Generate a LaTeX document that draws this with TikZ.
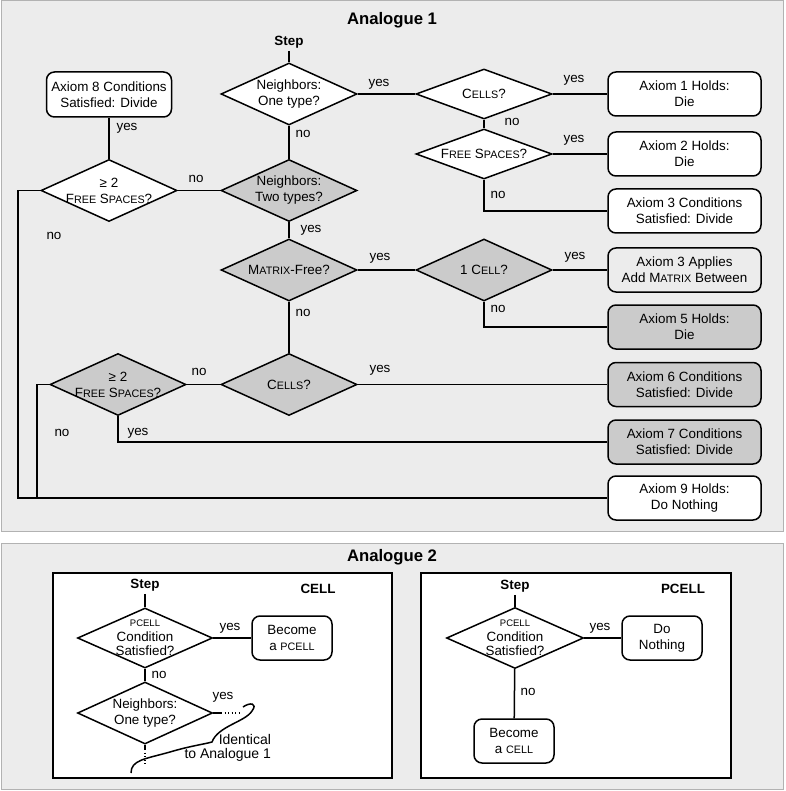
\documentclass[tikz,border=0pt]{standalone}
\usepackage{fontspec}
\setmainfont{Liberation Sans}
\usetikzlibrary{shapes.geometric,calc}
\definecolor{panelbg}{HTML}{ECECEC}
\definecolor{panelrule}{HTML}{B2B2B2}
\definecolor{shade}{HTML}{CBCBCB}
\newcommand{\sm}[1]{{\fontsize{10.8}{16}\selectfont #1}}
\newcommand{\smp}[1]{{\fontsize{9.5}{14}\selectfont #1}}

\begin{document}
\begin{tikzpicture}[x=1pt,y=-1pt,line width=1.5pt,
    every node/.style={font=\fontsize{13.4}{16}\selectfont, align=center},
    dia/.style={diamond, draw, fill=white, aspect=2, inner xsep=-20pt, inner ysep=-8pt,
      minimum width=136, minimum height=62},
    grey/.style={fill=shade},
    axbox/.style={draw, rounded corners=8, fill=white, inner sep=0pt, minimum width=153, minimum height=44},
    smbox/.style={draw, rounded corners=8, fill=white, inner sep=0pt, minimum width=80, minimum height=44},
    hd/.style={font=\bfseries\fontsize{13.4}{16}\selectfont, inner sep=2pt},
    title/.style={font=\bfseries\fontsize{16.7}{20}\selectfont},
    dots/.style={line width=1.2pt, dash pattern=on 1.2pt off 2.3pt}]
  \useasboundingbox (0,0) rectangle (785,791);
  \draw[panelrule, fill=panelbg, line width=1pt] (1,1) rectangle (783,531);
  \draw[panelrule, fill=panelbg, line width=1pt] (1,543) rectangle (783,789);

  % Analogue 1
  \node[title] (titleA) at (392,20) {Analogue 1};
  \node[hd] (stepA) at (289,42) {Step};
  \node[dia] (one) at (289,94) {Neighbors:\\One type?};
  \node[dia, grey] (two) at (289,190.5) {Neighbors:\\Two types?};
  \node[dia, grey] (mfree) at (289,270) {M\sm{ATRIX}-Free?};
  \node[dia, grey] (cellsB) at (289,384.5) {C\sm{ELLS}?};
  \node[dia, minimum height=50] (cellsA) at (484,94) {C\sm{ELLS}?};
  \node[dia, minimum height=50] (free) at (484,154) {F\sm{REE} S\sm{PACES}?};
  \node[dia, grey] (onecell) at (484,270) {1 C\sm{ELL}?};
  \node[dia] (ge2a) at (109,190.5) {≥ 2\\F\sm{REE} S\sm{PACES}?};
  \node[dia, grey] (ge2b) at (118,384.5) {≥ 2\\F\sm{REE} S\sm{PACES}?};

  \node[axbox, minimum width=125, minimum height=45] (ax8) at (109,94.5) {Axiom 8 Conditions\\Satisfied: Divide};
  \node[axbox] (ax1) at (684.5,94) {Axiom 1 Holds:\\Die};
  \node[axbox] (ax2) at (684.5,154) {Axiom 2 Holds:\\Die};
  \node[axbox] (ax3) at (684.5,211) {Axiom 3 Conditions\\Satisfied: Divide};
  \node[axbox, fill=panelbg] (ax3b) at (684.5,270) {Axiom 3 Applies\\Add M\sm{ATRIX} Between};
  \node[axbox, grey] (ax5) at (684.5,327) {Axiom 5 Holds:\\Die};
  \node[axbox, grey] (ax6) at (684.5,384.5) {Axiom 6 Conditions\\Satisfied: Divide};
  \node[axbox, grey] (ax7) at (684.5,442) {Axiom 7 Conditions\\Satisfied: Divide};
  \node[axbox] (ax9) at (684.5,498) {Axiom 9 Holds:\\Do Nothing};
  \coordinate (railA) at (18,498);
  \coordinate (railB) at (37,498);

  \draw (stepA) -- (one);
  \draw (one) -- (cellsA);
  \draw (cellsA) -- (ax1);
  \draw (cellsA) -- (free);
  \draw (free) -- (ax2);
  \draw (free.south) |- (ax3);
  \draw (one) -- (two);
  \draw (two) -- (ge2a);
  \draw (ge2a) -- (ax8);
  \draw (ge2a.west) -| (railA) -- (ax9);
  \draw (two) -- (mfree);
  \draw (mfree) -- (onecell);
  \draw (onecell) -- (ax3b);
  \draw (onecell.south) |- (ax5);
  \draw (mfree) -- (cellsB);
  \draw (cellsB) -- (ax6);
  \draw (cellsB) -- (ge2b);
  \draw (ge2b.south) |- (ax7);
  \draw (ge2b.west) -| (railB);

  \node (y1) at (379,84) {yes};
  \node (y2) at (574,80) {yes};
  \node (n1) at (512,122) {no};
  \node (y3) at (574,140) {yes};
  \node (n2) at (498,195) {no};
  \node (n3) at (303,134) {no};
  \node (y4) at (127,128) {yes};
  \node (n4) at (196,179) {no};
  \node (n5) at (54,236) {no};
  \node (y5) at (311,230) {yes};
  \node (y6) at (380,258) {yes};
  \node (y7) at (575,257) {yes};
  \node (n6) at (498,309) {no};
  \node (n7) at (303,313) {no};
  \node (y8) at (380,370) {yes};
  \node (n8) at (199,372) {no};
  \node (n9) at (62,433) {no};
  \node (y9) at (138,433) {yes};

  % Analogue 2
  \node[title] (titleB) at (392,557) {Analogue 2};
  \draw[fill=white] (53,573) rectangle (392,778);
  \draw[fill=white] (421,573) rectangle (731,778);

  \node[hd] (stepB) at (145,585) {Step};
  \node[hd] (cellhd) at (318,589) {CELL};
  \node[dia, minimum width=135, minimum height=60, font=\fontsize{13.4}{14.5}\selectfont] (pcl) at (145,638) {\smp{PCELL}\\Condition\\Satisfied?};
  \node[smbox] (bpc) at (292,638) {Become\\a \sm{PCELL}};
  \node[dia, minimum width=135] (nb) at (145,713) {Neighbors:\\One type?};
  \coordinate (nbE) at (221,713);
  \coordinate (dotsE) at (241,713);
  \coordinate (nbS) at (145,749);
  \coordinate (dotsS) at (145,766);
  \draw (stepB) -- (pcl);
  \draw (pcl) -- (bpc);
  \draw (pcl) -- (nb);
  \draw (nb.east) -- (nbE);
  \draw[dots] (nbE) -- (dotsE);
  \draw (nb.south) -- (nbS);
  \draw[dots] (nbS) -- (dotsS);
  \draw (243,707) .. controls (250,702) and (258,703) .. (252,711)
    .. controls (245,722) and (218,726) .. (212,742)
    .. controls (205,744) and (190,746) .. (170,752)
    .. controls (145,759) and (131,760) .. (131,773);
  \node[align=right, anchor=east, font=\fontsize{14}{14.5}\selectfont] (ident) at (275,748) {Identical\\to Analogue 1};
  \node (y10) at (230,628) {yes};
  \node (n10) at (159,675) {no};
  \node (y11) at (223,697) {yes};

  \node[hd] (stepC) at (515,586) {Step};
  \node[hd] (pcellhd) at (683,589) {PCELL};
  \node[dia, minimum width=137, minimum height=61, font=\fontsize{13.4}{14.5}\selectfont] (pcr) at (515,638) {\smp{PCELL}\\Condition\\Satisfied?};
  \node[smbox] (dn) at (662,638) {Do\\Nothing};
  \node[smbox] (bc) at (514,741) {Become\\a \sm{CELL}};
  \draw (stepC) -- (pcr);
  \draw (pcr) -- (dn);
  \draw (pcr) -- (bc);
  \node (y12) at (600,628) {yes};
  \node (n11) at (528,692) {no};
\end{tikzpicture}
\end{document}
